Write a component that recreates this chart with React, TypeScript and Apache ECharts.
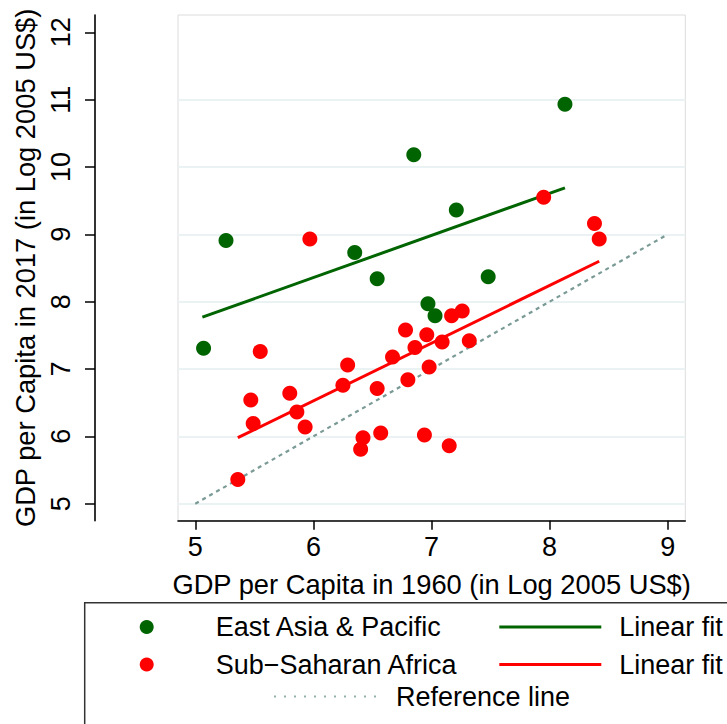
import React, { useEffect, useRef } from 'react';
import * as echarts from 'echarts';

// East Asia & Pacific
const eapX = [5.07, 5.26, 6.35, 6.54, 6.85, 6.97, 7.03, 7.21, 7.48, 8.13];
const eapY = [7.31, 8.91, 8.73, 8.34, 10.18, 7.97, 7.79, 9.36, 8.37, 10.93];

// Sub-Saharan Africa
const ssaX = [5.97, 5.55, 5.47, 5.49, 5.36, 5.80, 5.86, 5.93, 6.29, 6.25, 6.42, 6.40, 6.57, 6.54, 6.67,
  6.78, 6.80, 6.86, 6.96, 6.98, 6.94, 7.09, 7.15, 7.17, 7.26, 7.32, 7.95, 8.38, 8.42];
const ssaY = [8.93, 7.26, 6.54, 6.19, 5.36, 6.64, 6.36, 6.14, 7.06, 6.76, 5.98, 5.81, 6.05, 6.71, 7.18,
  7.58, 6.84, 7.32, 7.51, 7.03, 6.02, 7.40, 5.86, 7.79, 7.86, 7.42, 9.55, 9.16, 8.93];

// Linear fits (endpoints as drawn)
const eapFitX = [5.06, 8.13];
const eapFitY = [7.77, 9.69];
const ssaFitX = [5.36, 8.42];
const ssaFitY = [5.98, 8.60];

// 45-degree reference line
const refX = [5, 9];
const refY = [5, 9];

// Axis ticks
const xTicks = [5, 6, 7, 8, 9];
const yTicks = [5, 6, 7, 8, 9, 10, 11, 12];
const yGrid = [5, 6, 7, 8, 9, 10, 11];

const xTitle = 'GDP per Capita in 1960 (in Log 2005 US$)';
const yTitle = 'GDP per Capita in 2017 (in Log 2005 US$)';

const NAME_EAP = 'East Asia & Pacific';
const NAME_SSA = 'Sub\u2212Saharan Africa';
const NAME_FIT_EAP = 'Linear fit (EAP)';
const NAME_FIT_SSA = 'Linear fit (SSA)';
const NAME_REF = 'Reference line';

const GREEN = '#006400';
const RED = '#ff0000';
const REFC = '#7a9a95';
const FONT = 'Liberation Sans, Arial, sans-serif';

const zip = (xs: number[], ys: number[]) => xs.map((x, i) => [x, ys[i]]);

function dotsPath() {
  let d = 'path://';
  for (let i = 0; i < 11; i++) d += `M${i * 10},0h2v2h-2z`;
  return d;
}

export default function App() {
  const ref = useRef<HTMLDivElement>(null);
  useEffect(() => {
    if (!ref.current) return;
    const chart = echarts.init(ref.current, undefined, { renderer: 'svg' });
    const legendText = { fontSize: 27, color: '#000', fontFamily: FONT };
    chart.setOption({
      animation: false,
      backgroundColor: '#fff',
      textStyle: { fontFamily: FONT },
      grid: {
        left: 178, top: 15, right: 41.7, bottom: 203.3,
        show: true, borderColor: '#dcdcdc', borderWidth: 1, backgroundColor: '#fff',
      },
      xAxis: {
        type: 'value', min: 4.8535, max: 9.149,
        name: xTitle, nameLocation: 'middle', nameGap: 50,
        nameTextStyle: { fontSize: 27.3, color: '#000', fontFamily: FONT },
        axisLine: { show: true, onZero: false, lineStyle: { color: '#000', width: 1.6 } },
        axisTick: { show: true, length: 9, customValues: xTicks, lineStyle: { color: '#000', width: 1.5 } },
        axisLabel: { customValues: xTicks, fontSize: 27, color: '#000', margin: 13, fontFamily: FONT },
        splitLine: { show: false },
      },
      yAxis: {
        type: 'value', min: 4.7474, max: 12.257, offset: 83,
        name: yTitle, nameLocation: 'middle', nameGap: 56,
        nameTextStyle: { fontSize: 27.3, color: '#000', fontFamily: FONT },
        axisLine: { show: true, onZero: false, lineStyle: { color: '#000', width: 1.6 } },
        axisTick: { show: true, length: 10, customValues: yTicks, lineStyle: { color: '#000', width: 1.5 } },
        axisLabel: { customValues: yTicks, rotate: 90, fontSize: 27, color: '#000', margin: 21, fontFamily: FONT },
        splitLine: { show: false },
      },
      legend: [
        {
          left: 139.7, top: 613.5, orient: 'vertical', padding: 0, itemGap: 10.5,
          itemWidth: 14, itemHeight: 14, selectedMode: false,
          textStyle: { ...legendText, padding: [0, 0, 0, 57] },
          data: [
            { name: NAME_EAP, icon: 'circle', itemStyle: { color: GREEN, borderWidth: 0 } },
            { name: NAME_SSA, icon: 'circle', itemStyle: { color: RED, borderWidth: 0 } },
          ],
        },
        {
          left: 499.3, top: 613.5, orient: 'vertical', padding: 0, itemGap: 10.5,
          itemWidth: 102, itemHeight: 3, selectedMode: false,
          formatter: () => 'Linear fit',
          textStyle: { ...legendText, padding: [0, 0, 0, 13] },
          data: [
            { name: NAME_FIT_EAP, icon: 'rect', itemStyle: { color: GREEN, borderWidth: 0 } },
            { name: NAME_FIT_SSA, icon: 'rect', itemStyle: { color: RED, borderWidth: 0 } },
          ],
        },
        {
          left: 274, top: 683, orient: 'horizontal', padding: 0,
          itemWidth: 104, itemHeight: 2, selectedMode: false,
          textStyle: { ...legendText, padding: [0, 0, 0, 14] },
          data: [
            { name: NAME_REF, icon: dotsPath(), itemStyle: { color: '#93b0ac', borderWidth: 0 } },
          ],
        },
      ],
      graphic: [
        {
          type: 'rect', z: 0, silent: true,
          shape: { x: 84.7, y: 602.7, width: 700, height: 200 },
          style: { fill: 'none', stroke: '#333', lineWidth: 1.5 },
        },
      ],
      series: [
        {
          name: NAME_REF, type: 'line', z: 2, data: zip(refX, refY),
          symbol: 'none', color: REFC, itemStyle: { color: REFC },
          lineStyle: { color: REFC, width: 2.2, type: [4, 4] },
          markLine: {
            z: 1, silent: true, symbol: 'none', label: { show: false },
            lineStyle: { color: '#eaf2f3', width: 2, type: 'solid' },
            emphasis: { disabled: true },
            data: yGrid.map((v) => ({ yAxis: v })),
          },
        },
        {
          name: NAME_FIT_EAP, type: 'line', z: 2, data: zip(eapFitX, eapFitY),
          symbol: 'none', color: GREEN, itemStyle: { color: GREEN },
          lineStyle: { color: GREEN, width: 3 },
        },
        {
          name: NAME_FIT_SSA, type: 'line', z: 2, data: zip(ssaFitX, ssaFitY),
          symbol: 'none', color: RED, itemStyle: { color: RED },
          lineStyle: { color: RED, width: 3 },
        },
        {
          name: NAME_EAP, type: 'scatter', z: 3, data: zip(eapX, eapY),
          symbol: 'circle', symbolSize: 15, itemStyle: { color: GREEN, opacity: 1 },
        },
        {
          name: NAME_SSA, type: 'scatter', z: 3, data: zip(ssaX, ssaY),
          symbol: 'circle', symbolSize: 15, itemStyle: { color: RED, opacity: 1 },
        },
      ],
    });
    return () => chart.dispose();
  }, []);
  return (
    <div
      ref={ref}
      style={{ position: 'fixed', left: 0, top: 0, width: 727, height: 724, background: '#fff' }}
    />
  );
}
